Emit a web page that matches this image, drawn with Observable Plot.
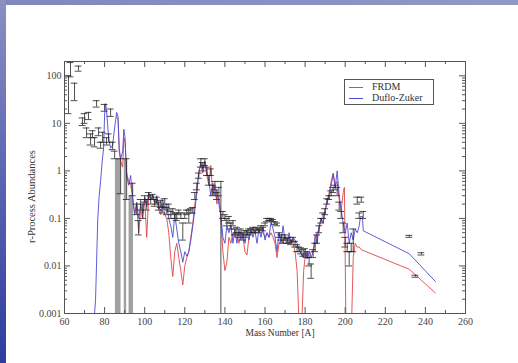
<!DOCTYPE html>
<html><head><meta charset="utf-8">
<script src="https://cdn.jsdelivr.net/npm/d3@7"></script>
<script src="https://cdn.jsdelivr.net/npm/@observablehq/plot@0.6"></script>
<style>
html,body{margin:0;padding:0;}
body{width:518px;height:363px;overflow:hidden;background:#fff;position:relative;font-family:"Liberation Serif","DejaVu Serif",serif;}
#topband{position:absolute;left:0;top:0;width:518px;height:5px;background:linear-gradient(90deg,#7f87bd,#9298c6);}
#leftband{position:absolute;left:0;top:0;width:6px;height:363px;background:linear-gradient(180deg,#8a90c2,#5a64b2 50%,#2e3c9e);}
#chart{position:absolute;left:0;top:0;}
#legend{position:absolute;left:344px;top:79px;width:88px;height:24px;border:1px solid #555;background:#fff;font-size:10px;color:#333;}
.row{position:absolute;left:0;height:12px;line-height:12px;}
.sw{position:absolute;left:4px;top:6px;width:14px;height:0;border-top:1px solid;}
.lt{position:absolute;left:27px;top:0;white-space:nowrap;}
</style></head>
<body>
<div id="topband"></div><div id="leftband"></div>
<div id="chart"></div>
<div id="legend">
  <div class="row" style="top:1px"><div class="sw" style="border-color:#e0454a"></div><div class="lt">FRDM</div></div>
  <div class="row" style="top:12px"><div class="sw" style="border-color:#4b4bd6"></div><div class="lt">Duflo-Zuker</div></div>
</div>
<script>
// Duflo-Zuker (blue)
const blueA = [75,75.5,76,76.6,77.3,78,78.8,79.5,80,80.5,81,82,83,84,85,86,86.7,87.3,88,89,89.6,90.2,91,92,93,94,95,96,97,98,99,100,101,102,103,104,105,106,107,108,109,110,111,112,113,114,115,116,117,118,119,120,121,122,123,124,125,126,127,128,129,130,131,132,133,134,135,136,137,138,139,140,141,142,143,144,145,146,147,148,149,150,151,152,153,154,155,156,157,158,159,160,161,162,163,164,165,166,167,168,169,170,171,172,173,174,175,176,177,178,179,180,181,182,183,184,185,186,187,188,189,190,191,192,193,194,195,196,197,198,199,200,201,202,203,204,205,206,207,207.6,208.6,209,232,245];
const blueV = [0.001,0.002,0.012,0.1,0.3,0.6,1.6,3,15,26,18,5,3,3.5,8,17,14,3,1.8,2.5,7.5,5,0.8,0.5,0.8,0.25,0.12,0.22,0.1,0.2,0.13,0.28,0.18,0.35,0.25,0.3,0.22,0.3,0.18,0.14,0.25,0.15,0.2,0.1,0.07,0.04,0.12,0.06,0.03,0.02,0.012,0.02,0.016,0.02,0.035,0.07,0.15,0.35,0.9,1.5,1.1,1.6,1.0,0.6,0.3,0.55,0.3,0.4,0.2,0.12,0.04,0.03,0.07,0.05,0.07,0.03,0.06,0.03,0.06,0.035,0.05,0.03,0.055,0.035,0.06,0.04,0.055,0.03,0.06,0.04,0.065,0.035,0.05,0.04,0.085,0.06,0.04,0.02,0.05,0.03,0.07,0.035,0.03,0.05,0.03,0.04,0.035,0.03,0.022,0.018,0.015,0.02,0.014,0.02,0.015,0.02,0.045,0.03,0.07,0.1,0.08,0.15,0.25,0.3,0.5,0.85,0.45,1.0,0.3,0.15,0.08,0.05,0.08,0.03,0.05,0.035,0.06,0.05,0.07,0.11,0.11,0.055,0.018,0.0047];
// FRDM (red)
const redA = [86,86.7,87.3,88,89,89.6,90.2,91,92,93,94,95,96,97,98,99,100,101,102,103,104,105,106,107,108,109,110,111,112,113,114,115,116,117,118,119,120,121,122,123,124,125,126,127,128,129,130,131,132,133,134,135,136,137,138,139,140,141,142,143,144,145,146,147,148,149,150,151,152,153,154,155,156,157,158,159,160,161,162,163,164,165,166,167,168,169,170,171,172,173,174,175,176,176.8,178.5,179.3,180,181,182,183,184,185,186,187,188,189,190,191,192,193,194,195,196,197,198,199,199.6,200.3,203.3,204,205,206,207,208,232,245];
const redV = [14,12,2.5,1.6,1.2,5,4,0.9,0.6,0.5,0.3,0.12,0.2,0.05,0.15,0.1,0.25,0.04,0.3,0.25,0.3,0.2,0.25,0.15,0.12,0.2,0.12,0.1,0.05,0.015,0.006,0.02,0.03,0.015,0.008,0.004,0.01,0.015,0.02,0.04,0.08,0.2,0.4,1.0,1.3,0.9,1.5,0.8,0.5,1.3,0.3,0.5,0.2,0.3,0.1,0.02,0.008,0.012,0.04,0.03,0.05,0.04,0.05,0.03,0.05,0.04,0.02,0.017,0.04,0.05,0.06,0.05,0.06,0.05,0.06,0.05,0.04,0.05,0.04,0.05,0.04,0.03,0.015,0.03,0.035,0.03,0.04,0.035,0.03,0.035,0.03,0.02,0.008,0.001,0.001,0.008,0.015,0.02,0.015,0.02,0.02,0.03,0.05,0.06,0.1,0.08,0.15,0.2,0.35,0.6,0.9,0.5,0.6,0.25,0.15,0.35,0.45,0.001,0.001,0.015,0.03,0.025,0.025,0.022,0.0085,0.0027];
// observed abundances: error bars
const errA  = [62,63,65,67,69,70,71,72,73,74,75,76,77,78,79,80,81,82,83,84,85,88,91,94,96,97,98,99,100,101,102,103,104,105,106,107,108,109,110,111,112,113,114,115,116,117,118,119,120,121,122,123,124,125,126,127,128,129,130,131,132,133,134,135,136,137,138,139,140,141,142,143,144,145,146,147,148,149,150,151,152,153,154,155,156,157,158,159,160,161,162,163,164,165,166,167,168,169,170,171,172,173,174,175,176,177,178,179,180,181,182,183,184,185,186,187,188,189,190,191,192,193,194,195,196,197,198,199,200,201,202,203,204,206,207,208,209,232,235,238];
const errLo = [16,95,30,125,9,10,5,12,3.5,5,3.2,22,5.5,3,4,18,3.5,4,14,2.8,1.8,0.33,0.25,0.3,0.12,0.045,0.15,0.1,0.22,0.15,0.25,0.2,0.25,0.18,0.2,0.15,0.17,0.13,0.2,0.12,0.15,0.1,0.12,0.1,0.09,0.12,0.1,0.035,0.1,0.12,0.08,0.13,0.13,0.25,0.4,0.7,1.2,1.0,1.3,0.8,0.5,0.8,0.3,0.4,0.25,0.3,0.001,0.1,0.09,0.07,0.08,0.06,0.07,0.045,0.05,0.04,0.045,0.035,0.04,0.045,0.045,0.05,0.05,0.05,0.055,0.05,0.06,0.055,0.07,0.085,0.09,0.09,0.085,0.075,0.07,0.04,0.035,0.03,0.035,0.03,0.03,0.028,0.032,0.025,0.02,0.02,0.018,0.016,0.017,0.015,0.01,0.0055,0.015,0.02,0.03,0.05,0.08,0.1,0.12,0.2,0.25,0.3,0.35,0.4,0.3,0.15,0.1,0.05,0.025,0.02,0.01,0.02,0.02,0.2,0.1,0.22,0.1,0.04,0.0058,0.017];
const errHi = [100,190,70,160,13,16,8,17,6,7,5,30,8,4,6.5,25,5,6,20,4,2.6,1.8,1.8,0.55,0.2,0.09,0.25,0.2,0.3,0.25,0.35,0.3,0.32,0.25,0.28,0.22,0.24,0.18,0.26,0.17,0.2,0.14,0.16,0.13,0.13,0.15,0.13,0.08,0.13,0.15,0.15,0.16,0.17,0.35,0.55,0.9,1.8,1.5,1.8,1.2,0.8,1.1,0.5,0.6,0.35,0.45,0.6,0.14,0.12,0.1,0.11,0.08,0.09,0.06,0.065,0.05,0.06,0.05,0.055,0.055,0.06,0.06,0.065,0.06,0.065,0.06,0.07,0.065,0.08,0.1,0.1,0.1,0.095,0.085,0.08,0.05,0.045,0.04,0.045,0.038,0.04,0.035,0.04,0.033,0.028,0.025,0.024,0.022,0.023,0.02,0.015,0.011,0.022,0.03,0.045,0.07,0.1,0.13,0.16,0.26,0.3,0.38,0.45,0.5,0.45,0.22,0.14,0.08,0.04,0.03,0.02,0.03,0.06,0.28,0.13,0.28,0.14,0.044,0.0064,0.019];
// shaded error regions reaching below the axis
const grayA1 = [85.4,89.8,92.2];
const grayA2 = [88.2,91.0,94.4];
const grayLo = [0.001,0.001,0.001];
const grayHi = [1.8,1.8,0.3];
// axes
const xTicks = [60,80,100,120,140,160,180,200,220,240,260];
const xLabels = ["60","80","100","120","140","160","180","200","220","240","260"];
const xMinor = [70,90,110,130,150,170,190,210,230,250];
const yTicks = [0.001,0.01,0.1,1,10,100];
const yLabels = ["0.001","0.01","0.1","1","10","100"];
const yMinor = [0.001,0.01,0.1,1,10,100].flatMap(d => [2,3,4,5,6,7,8,9].map(m => d*m)).filter(v => v <= 200);

const W = 518, H = 363, mL = 64, mR = 53, mT = 61, mB = 50;
const pw = W - mL - mR, ph = H - mT - mB;
const blue = blueA.map((a,i) => ({A:a, v:blueV[i]}));
const red = redA.map((a,i) => ({A:a, v:redV[i]}));
const errs = errA.map((a,i) => ({A:a, lo:errLo[i], hi:errHi[i]}));
const grays = grayA1.map((a,i) => ({a1:a, a2:grayA2[i], lo:grayLo[i], hi:grayHi[i]}));
const capW = 1.7;
const tickC = "#555";
const errC = "#222";

const chart = Plot.plot({
  width: W, height: H,
  marginLeft: mL, marginRight: mR, marginTop: mT, marginBottom: mB,
  style: {fontFamily: '"Liberation Serif", "DejaVu Serif", serif', fontSize: "10px", color: "#333", background: "transparent", overflow: "visible"},
  x: {domain: [60, 260]},
  y: {type: "log", domain: [0.001, 200]},
  marks: [
    Plot.rect(grays, {x1: "a1", x2: "a2", y1: "lo", y2: "hi", fill: "#a0a0a0"}),
    Plot.line(red, {x: "A", y: "v", stroke: "#e0454a", strokeWidth: 0.9, clip: true}),
    Plot.line(blue, {x: "A", y: "v", stroke: "#4b4bd6", strokeWidth: 0.9, clip: true}),
    Plot.ruleX(errs, {x: "A", y1: "lo", y2: "hi", stroke: errC, strokeWidth: 0.8, clip: true}),
    Plot.ruleY(errs, {y: "lo", x1: d => d.A - capW, x2: d => d.A + capW, stroke: errC, strokeWidth: 0.8, clip: true}),
    Plot.ruleY(errs, {y: "hi", x1: d => d.A - capW, x2: d => d.A + capW, stroke: errC, strokeWidth: 0.8, clip: true}),
    Plot.frame({stroke: tickC}),
    Plot.tickX(xTicks, {x: d => d, insetTop: ph - 6, stroke: tickC}),
    Plot.tickX(xTicks, {x: d => d, insetBottom: ph - 6, stroke: tickC}),
    Plot.tickX(xMinor, {x: d => d, insetTop: ph - 3, stroke: tickC}),
    Plot.tickX(xMinor, {x: d => d, insetBottom: ph - 3, stroke: tickC}),
    Plot.tickY(yTicks, {y: d => d, insetRight: pw - 6, stroke: tickC}),
    Plot.tickY(yTicks, {y: d => d, insetLeft: pw - 6, stroke: tickC}),
    Plot.tickY(yMinor, {y: d => d, insetRight: pw - 3, stroke: tickC}),
    Plot.tickY(yMinor, {y: d => d, insetLeft: pw - 3, stroke: tickC}),
    Plot.axisX({ticks: xTicks, tickSize: 0, tickPadding: 4, tickFormat: (d,i) => xLabels[xTicks.indexOf(d)], label: null, fill: "#444"}),
    Plot.axisY({ticks: yTicks, tickSize: 0, tickPadding: 3, tickFormat: (d,i) => yLabels[yTicks.indexOf(d)], label: null, fill: "#444"}),
    Plot.text(["Mass Number [A]"], {frameAnchor: "bottom", textAnchor: "middle", lineAnchor: "middle", dy: 19, dx: 15, fontSize: 9.5, fill: "#333"}),
    Plot.text(["r-Process Abundances"], {frameAnchor: "left", textAnchor: "middle", lineAnchor: "middle", rotate: -90, dx: -33, dy: 9, fontSize: 10.5, fill: "#333"})
  ]
});
document.getElementById("chart").appendChild(chart);
</script>
</body></html>
